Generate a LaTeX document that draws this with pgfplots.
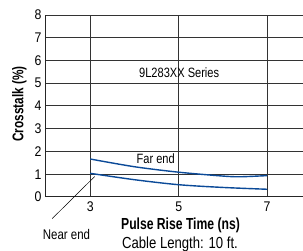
\documentclass[border=0pt]{standalone}
\usepackage{fontspec}
\setmainfont{Liberation Sans}[FakeStretch=0.82]
\newfontfamily\condb{Liberation Sans Bold}[FakeStretch=0.76]
\newfontfamily\condt{Liberation Sans}[FakeStretch=0.88]
\usepackage{pgfplots}
\pgfplotsset{compat=1.18}
\definecolor{curve}{HTML}{0B4A98}
\begin{document}
\begin{tikzpicture}
\begin{axis}[
  at={(0,0)}, anchor=south west,
  scale only axis, width=257pt, height=182pt,
  xmin=2, xmax=7.81, ymin=0, ymax=8,
  axis lines*=left,
  axis line style={black!85, line width=1pt},
  xtick={3,5,7}, ytick={0,1,2,3,4,5,6,7,8},
  major tick length=0pt,
  grid=major,
  grid style={black!80, line width=1pt},
  tick label style={font=\condt\fontsize{14}{14}\selectfont},
  /pgf/number format/assume math mode=true,
  xticklabel style={yshift=-1pt},
  yticklabel style={xshift=-1pt},
  clip=false,
]
\addplot[curve, line width=1.4pt, smooth] coordinates {
  (3,1.67) (4,1.33) (5,1.09) (6,0.92) (6.4,0.89) (7,0.94)};
\addplot[curve, line width=1.4pt, smooth] coordinates {
  (3,1.04) (4,0.76) (5,0.54) (6,0.42) (7,0.34)};
\node[anchor=base, font=\fontsize{13.5}{13.5}\selectfont] at (axis cs:5.01,5.26) {9L283XX Series};
\node[anchor=base, font=\fontsize{13.5}{13.5}\selectfont] at (axis cs:4.48,1.48) {Far end};
\draw[black, line width=0.5pt] (axis cs:2.14,-0.95) -- (axis cs:3.1,0.9);
\end{axis}
\node[anchor=base, font=\fontsize{14}{14}\selectfont] at (20.5pt,-42.3pt) {Near end};
\node[anchor=base, font=\condb\fontsize{16}{16}\selectfont] at (134.5pt,-33pt) {Pulse Rise Time (ns)};
\node[anchor=base, font=\fontsize{16}{16}\selectfont] at (134pt,-51.3pt) {Cable Length: 10 ft.};
\node[anchor=base, font=\condb\fontsize{15.5}{15.5}\selectfont, rotate=90] at (-22.7pt,93pt) {Crosstalk (\%)};
\pgfresetboundingbox
\path (-46pt,-54pt) rectangle (257pt,197pt);
\end{tikzpicture}
\end{document}
